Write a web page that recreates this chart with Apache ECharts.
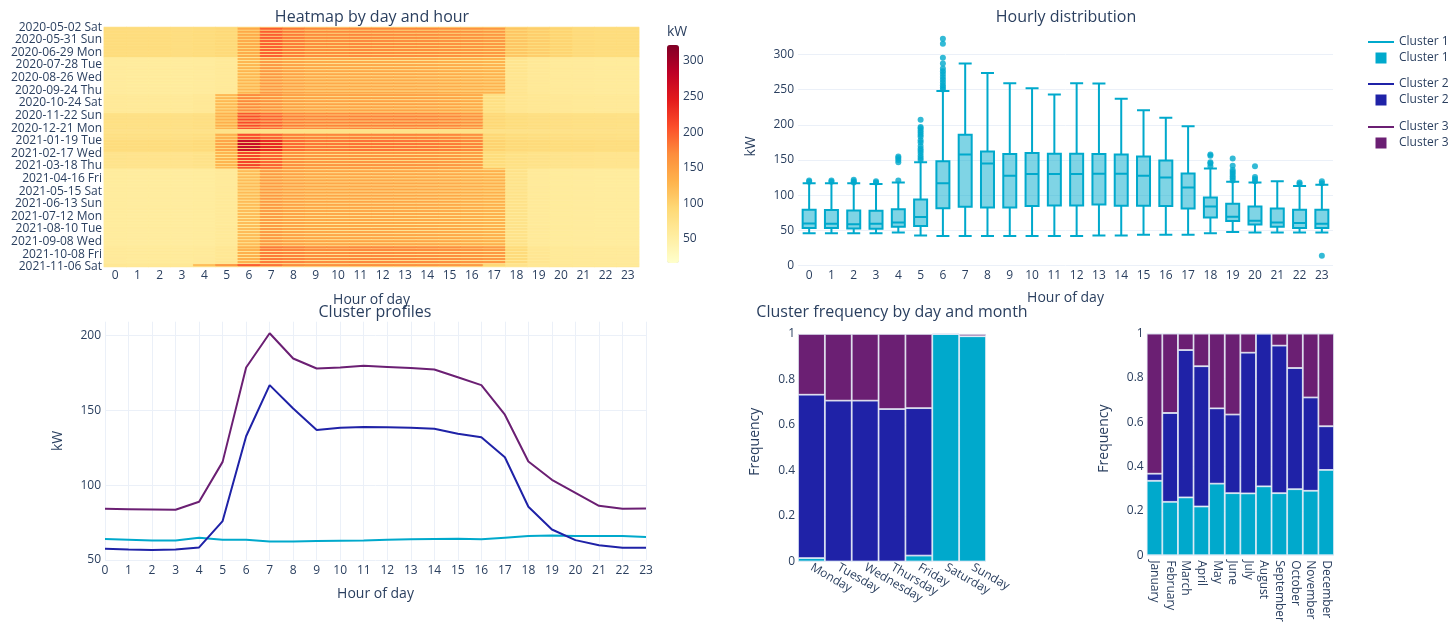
<!DOCTYPE html>
<html>
<head>
<meta charset="utf-8">
<title>Load profiles</title>
<script src="https://cdn.jsdelivr.net/npm/echarts@6/dist/echarts.min.js"></script>
<style>
  html, body { margin: 0; padding: 0; background: #fff; }
  #chart { width: 1453px; height: 625px; }
</style>
</head>
<body>
<div id="chart"></div>
<script>
  // ---- data ----
  const hourLabels = ['0', '1', '2', '3', '4', '5', '6', '7', '8', '9', '10', '11', '12', '13', '14', '15', '16', '17', '18', '19', '20', '21', '22', '23']
  const hourValues = [0, 1, 2, 3, 4, 5, 6, 7, 8, 9, 10, 11, 12, 13, 14, 15, 16, 17, 18, 19, 20, 21, 22, 23]
  const clusterNames = ['Cluster 1', 'Cluster 2', 'Cluster 3']
  const clusterColors = ['#00a9cc', '#1f22a7', '#6b1f73']

  // heatmap: one row per day, grouped in periods that look alike
  const firstDay = '2020-05-02'
  const lastDay = '2021-11-06'
  const missingDays = ['2020-10-04', '2021-09-26']
  const holidays = ['2020-12-24', '2020-12-25', '2020-12-28', '2020-12-29', '2020-12-30', '2020-12-31', '2021-01-01']
  const dayNames = ['Sun', 'Mon', 'Tue', 'Wed', 'Thu', 'Fri', 'Sat']
  const periodStarts = ['2020-05-02', '2020-07-11', '2020-10-05', '2020-11-18', '2021-01-18', '2021-02-15', '2021-03-25', '2021-09-20', '2021-10-31']
  const weekdayProfiles = [
    [88, 87, 87, 86, 88, 92, 140, 200, 182, 172, 172, 174, 173, 172, 171, 168, 165, 160, 112, 105, 98, 90, 88, 88],
    [58, 57, 57, 57, 58, 62, 128, 160, 150, 142, 142, 143, 143, 142, 141, 138, 136, 132, 72, 64, 61, 60, 59, 59],
    [62, 61, 61, 61, 64, 125, 172, 165, 152, 148, 148, 150, 150, 150, 149, 146, 140, 82, 70, 66, 64, 63, 62, 62],
    [82, 81, 81, 81, 84, 135, 212, 198, 180, 176, 176, 178, 178, 178, 177, 174, 168, 95, 88, 85, 83, 82, 81, 80],
    [88, 87, 87, 87, 90, 148, 275, 240, 195, 186, 186, 188, 188, 187, 186, 182, 176, 100, 92, 90, 88, 87, 86, 86],
    [74, 73, 73, 73, 76, 130, 218, 198, 170, 163, 163, 165, 165, 165, 164, 161, 155, 88, 80, 76, 74, 73, 72, 72],
    [57, 56, 56, 56, 57, 62, 122, 158, 150, 145, 145, 146, 146, 145, 144, 141, 138, 134, 76, 62, 59, 58, 57, 57],
    [60, 59, 59, 59, 60, 66, 135, 182, 178, 172, 172, 174, 174, 173, 172, 170, 166, 160, 90, 68, 63, 62, 61, 60],
    [66, 65, 65, 65, 120, 160, 200, 185, 170, 165, 165, 166, 166, 165, 164, 160, 155, 95, 75, 66, 64, 63, 63, 62]
  ]
  const weekendLevels = [84, 60, 64, 76, 82, 72, 58, 62, 66]
  const colorbarTicks = [50, 100, 150, 200, 250, 300]

  // hourly distribution (box plot)
  const boxMin = [46, 46, 46, 46, 47, 43, 42, 42, 42, 42, 42, 42, 42, 43, 43, 44, 44, 44, 46, 48, 47, 47, 47, 47]
  const boxQ1 = [53.4, 53.4, 52.9, 52.4, 55.3, 56.2, 81.7, 83.6, 82.7, 82.7, 84.6, 85.5, 85.5, 87, 85, 85, 84.6, 81.3, 68.5, 63.3, 58.6, 55.3, 53.4, 53.4]
  const boxMedian = [60, 59.5, 59, 59.5, 61.4, 69, 117.2, 157.8, 145, 127.5, 130, 130, 130, 130.4, 130.4, 127.5, 125.2, 111, 84.1, 69.4, 63.8, 61.4, 60.5, 59.5]
  const boxQ3 = [79.4, 78.9, 78.4, 78, 80.3, 94, 148.3, 186, 162, 158.7, 160, 159, 159, 158.7, 157.8, 155, 149.3, 130.9, 96.8, 87.9, 84.1, 81.3, 79.4, 79.4]
  const boxMax = [117, 117, 117, 116, 118, 147, 248, 287, 273.5, 259, 252, 243, 259, 258.5, 237, 220.6, 210, 198, 138, 119, 118, 120, 113, 115]
  const boxOutliers = [
    [0, 119], [0, 121], [1, 119], [1, 121], [2, 118], [2, 120], [2, 122], [3, 118], [3, 120],
    [4, 121], [4, 147], [4, 150], [4, 153], [4, 155],
    [5, 150], [5, 153], [5, 156], [5, 160], [5, 163], [5, 166], [5, 170], [5, 175], [5, 178],
    [5, 183], [5, 186], [5, 189], [5, 192], [5, 195], [5, 197], [5, 207],
    [6, 250], [6, 253], [6, 256], [6, 260], [6, 264], [6, 268], [6, 272], [6, 276], [6, 280],
    [6, 287], [6, 295], [6, 315], [6, 322],
    [18, 141], [18, 145], [18, 147], [18, 156], [18, 158],
    [19, 121], [19, 124], [19, 127], [19, 130], [19, 133], [19, 136], [19, 142], [19, 152],
    [20, 120], [20, 123], [20, 126], [20, 141],
    [22, 116], [22, 118], [23, 117], [23, 120], [23, 14]
  ]

  // cluster profiles
  const cluster1Profile = [64, 63.6, 63.1, 63.1, 64.9, 63.6, 63.6, 62.4, 62.4, 62.7, 62.9, 63.1, 63.6, 63.8, 64, 64.2, 63.8, 64.9, 66, 66.4, 66, 66, 66, 65.3]
  const cluster2Profile = [57.6, 57.1, 56.7, 57.1, 58.4, 76, 132.7, 166.9, 151.3, 136.9, 138.4, 138.9, 138.7, 138.4, 137.8, 134.4, 132, 118.7, 85.6, 70.4, 63.3, 59.8, 58.2, 58.2]
  const cluster3Profile = [84.2, 84, 83.8, 83.6, 88.9, 115.6, 178.7, 201.6, 184.7, 178, 178.7, 179.8, 179.1, 178.4, 177.3, 172.2, 166.9, 147.1, 115.8, 103.6, 94.9, 86.2, 84.2, 84.4]

  // cluster frequency
  const weekdays = ['Monday', 'Tuesday', 'Wednesday', 'Thursday', 'Friday', 'Saturday', 'Sunday']
  const weekdayC1 = [0.015, 0, 0, 0, 0.026, 1, 0.99]
  const weekdayC2 = [0.718, 0.707, 0.707, 0.67, 0.648, 0, 0]
  const weekdayC3 = [0.267, 0.293, 0.293, 0.33, 0.326, 0, 0.01]
  const months = ['January', 'February', 'March', 'April', 'May', 'June', 'July', 'August', 'September', 'October', 'November', 'December']
  const monthC1 = [0.336, 0.241, 0.261, 0.22, 0.323, 0.28, 0.279, 0.311, 0.28, 0.298, 0.291, 0.385]
  const monthC2 = [0.032, 0.401, 0.665, 0.633, 0.34, 0.355, 0.635, 0.689, 0.666, 0.547, 0.421, 0.197]
  const monthC3 = [0.632, 0.358, 0.074, 0.147, 0.337, 0.365, 0.086, 0, 0.054, 0.155, 0.288, 0.418]

  // ---- build heatmap rows ----
  const dayLabels = []
  const heatData = []
  const endTime = Date.parse(lastDay + 'T00:00:00Z')
  for (let t = Date.parse(firstDay + 'T00:00:00Z'); t <= endTime; t += 86400000) {
    const d = new Date(t)
    const iso = d.toISOString().slice(0, 10)
    if (missingDays.indexOf(iso) >= 0) continue
    let p = 0
    periodStarts.forEach((s, i) => { if (iso >= s) p = i })
    const dow = d.getUTCDay()
    const offDay = dow === 0 || dow === 6 || holidays.indexOf(iso) >= 0
    const row = dayLabels.length
    dayLabels.push(iso + ' ' + dayNames[dow])
    hourLabels.forEach((h, hi) => {
      heatData.push([hi, row, offDay ? weekendLevels[p] : weekdayProfiles[p][hi]])
    })
  }

  const font = '"Open Sans", verdana, arial, sans-serif'
  const ink = '#2a3f5f'
  const gridColor = '#ebf0f8'
  const tickText = { color: ink, fontSize: 12, fontFamily: font }
  const nameText = { color: ink, fontSize: 14, fontFamily: font }

  function title(text, x, y) {
    return {
      type: 'text', x: x, y: y,
      style: { text: text, fill: ink, font: '16px ' + font, align: 'center', verticalAlign: 'middle' }
    }
  }

  const chart = echarts.init(document.getElementById('chart'))
  const option = {
    animation: false,
    textStyle: { fontFamily: font, color: ink },
    graphic: [
      title('Heatmap by day and hour', 372, 17),
      title('Hourly distribution', 1066, 17),
      title('Cluster profiles', 375, 312),
      title('Cluster frequency by day and month', 892, 312),
      {
        type: 'text', x: 667, y: 32,
        style: { text: 'kW', fill: ink, font: '14px ' + font, align: 'left', verticalAlign: 'middle' }
      }
    ],
    legend: [0, 1, 2].map(i => ({
      orient: 'vertical',
      left: 1363,
      top: [31, 73, 116][i],
      itemWidth: 26,
      itemHeight: 11,
      itemGap: 4,
      selectedMode: false,
      textStyle: tickText,
      itemStyle: { borderWidth: 0 },
      formatter: n => n.replace(' bar', ''),
      data: [
        { name: clusterNames[i], icon: 'path://M0 0H26V2H0Z' },
        { name: clusterNames[i] + ' bar', icon: 'path://M0 0H10V10H0Z' }
      ]
    })),
    visualMap: {
      type: 'continuous',
      seriesIndex: 0,
      min: 16.3,
      max: 322.5,
      left: 667,
      top: 45,
      padding: 0,
      itemWidth: 12,
      itemHeight: 218,
      calculable: false,
      inRange: {
        color: ['#ffffcc', '#ffeda0', '#fed976', '#feb24c', '#fd8d3c', '#fc4e2a', '#e31a1c', '#bd0026', '#800026']
      }
    },
    grid: [
      { left: 104, top: 27, width: 535, height: 240 },
      { left: 798, top: 27, width: 535, height: 238.7 },
      { left: 105, top: 321.7, width: 541, height: 238.3 },
      { left: 798, top: 322, width: 188, height: 239.5 },
      { left: 1146.7, top: 322, width: 187.3, height: 239.8 },
      { left: 667, top: 45, width: 12, height: 218 }
    ],
    xAxis: [
      {
        gridIndex: 0, type: 'category', data: hourLabels,
        name: 'Hour of day', nameLocation: 'middle', nameGap: 26, nameTextStyle: nameText,
        axisLine: { show: false }, axisTick: { show: false },
        axisLabel: Object.assign({ margin: 3, interval: 0 }, tickText)
      },
      {
        gridIndex: 1, type: 'category', data: hourLabels,
        name: 'Hour of day', nameLocation: 'middle', nameGap: 25, nameTextStyle: nameText,
        axisLine: { show: false }, axisTick: { show: false },
        axisLabel: Object.assign({ margin: 4, interval: 0 }, tickText)
      },
      {
        gridIndex: 2, type: 'value', min: 0, max: 23, interval: 1,
        name: 'Hour of day', nameLocation: 'middle', nameGap: 27, nameTextStyle: nameText,
        axisLine: { show: false }, axisTick: { show: false },
        axisLabel: Object.assign({ margin: 5 }, tickText),
        splitLine: { lineStyle: { color: gridColor } }
      },
      {
        gridIndex: 3, type: 'category', data: weekdays,
        axisLine: { show: false }, axisTick: { show: false },
        axisLabel: Object.assign({ margin: 5, interval: 0, rotate: -30 }, tickText)
      },
      {
        gridIndex: 4, type: 'category', data: months,
        axisLine: { show: false }, axisTick: { show: false },
        axisLabel: Object.assign({ margin: 5, interval: 0, rotate: -90 }, tickText)
      },
      { gridIndex: 5, type: 'value', show: false, min: 0, max: 1 }
    ],
    yAxis: [
      {
        gridIndex: 0, type: 'category', data: dayLabels, inverse: true,
        axisLine: { show: false }, axisTick: { show: false },
        axisLabel: Object.assign({ margin: 2, interval: 28 }, tickText)
      },
      {
        gridIndex: 1, type: 'value', min: 0, max: 338.8,
        name: 'kW', nameLocation: 'middle', nameGap: 40, nameTextStyle: nameText,
        axisLine: { show: false }, axisTick: { show: false, customValues: [0, 50, 100, 150, 200, 250, 300] },
        axisLabel: Object.assign({ margin: 4, customValues: [0, 50, 100, 150, 200, 250, 300] }, tickText),
        splitLine: { lineStyle: { color: gridColor } }
      },
      {
        gridIndex: 2, type: 'value', min: 50, max: 209.3,
        name: 'kW', nameLocation: 'middle', nameGap: 40, nameTextStyle: nameText,
        axisLine: { show: false }, axisTick: { show: false, customValues: [50, 100, 150, 200] },
        axisLabel: Object.assign({ margin: 4, customValues: [50, 100, 150, 200] }, tickText),
        splitLine: { lineStyle: { color: gridColor } }
      },
      {
        gridIndex: 3, type: 'value', min: 0, max: 1.0526,
        name: 'Frequency', nameLocation: 'middle', nameGap: 36, nameTextStyle: nameText,
        axisLine: { show: false }, axisTick: { show: false, customValues: [0, 0.2, 0.4, 0.6, 0.8, 1] },
        axisLabel: Object.assign({ margin: 3, customValues: [0, 0.2, 0.4, 0.6, 0.8, 1] }, tickText),
        splitLine: { lineStyle: { color: gridColor } }
      },
      {
        gridIndex: 4, type: 'value', min: 0, max: 1.0526,
        name: 'Frequency', nameLocation: 'middle', nameGap: 36, nameTextStyle: nameText,
        axisLine: { show: false }, axisTick: { show: false, customValues: [0, 0.2, 0.4, 0.6, 0.8, 1] },
        axisLabel: Object.assign({ margin: 3, customValues: [0, 0.2, 0.4, 0.6, 0.8, 1] }, tickText),
        splitLine: { lineStyle: { color: gridColor } }
      },
      {
        gridIndex: 5, type: 'value', min: 16.3, max: 322.5, position: 'right',
        axisLine: { show: false }, axisTick: { show: false, customValues: colorbarTicks },
        axisLabel: Object.assign({ margin: 4, customValues: colorbarTicks }, tickText),
        splitLine: { show: false }
      }
    ],
    series: [
      {
        type: 'heatmap', xAxisIndex: 0, yAxisIndex: 0,
        data: heatData, progressive: 0,
        emphasis: { disabled: true }
      },
      {
        type: 'boxplot', xAxisIndex: 1, yAxisIndex: 1,
        boxWidth: [13, 13],
        data: hourLabels.map((h, i) => [boxMin[i], boxQ1[i], boxMedian[i], boxQ3[i], boxMax[i]]),
        itemStyle: { color: 'rgba(0,169,204,0.5)', borderColor: clusterColors[0], borderWidth: 2 }
      },
      {
        type: 'scatter', xAxisIndex: 1, yAxisIndex: 1,
        data: boxOutliers, symbolSize: 6,
        itemStyle: { color: clusterColors[0] }
      }
    ]
  }

  const profiles = [cluster1Profile, cluster2Profile, cluster3Profile]
  profiles.forEach((prof, i) => {
    option.series.push({
      name: clusterNames[i], type: 'line', xAxisIndex: 2, yAxisIndex: 2,
      symbol: 'none',
      data: hourValues.map((h, k) => [h, prof[k]]),
      lineStyle: { color: clusterColors[i], width: 2 },
      itemStyle: { color: clusterColors[i] }
    })
  })

  const weekdayShares = [weekdayC1, weekdayC2, weekdayC3]
  const monthShares = [monthC1, monthC2, monthC3]
  weekdayShares.forEach((vals, i) => {
    option.series.push({
      name: clusterNames[i] + ' bar', type: 'bar', xAxisIndex: 3, yAxisIndex: 3,
      stack: 'weekday', barCategoryGap: '0%', data: vals,
      itemStyle: { color: clusterColors[i], borderColor: '#e5ecf6', borderWidth: 0.8 }
    })
  })
  monthShares.forEach((vals, i) => {
    option.series.push({
      name: clusterNames[i] + ' bar', type: 'bar', xAxisIndex: 4, yAxisIndex: 4,
      stack: 'month', barCategoryGap: '0%', data: vals,
      itemStyle: { color: clusterColors[i], borderColor: '#e5ecf6', borderWidth: 0.8 }
    })
  })

  chart.setOption(option)
</script>
</body>
</html>
